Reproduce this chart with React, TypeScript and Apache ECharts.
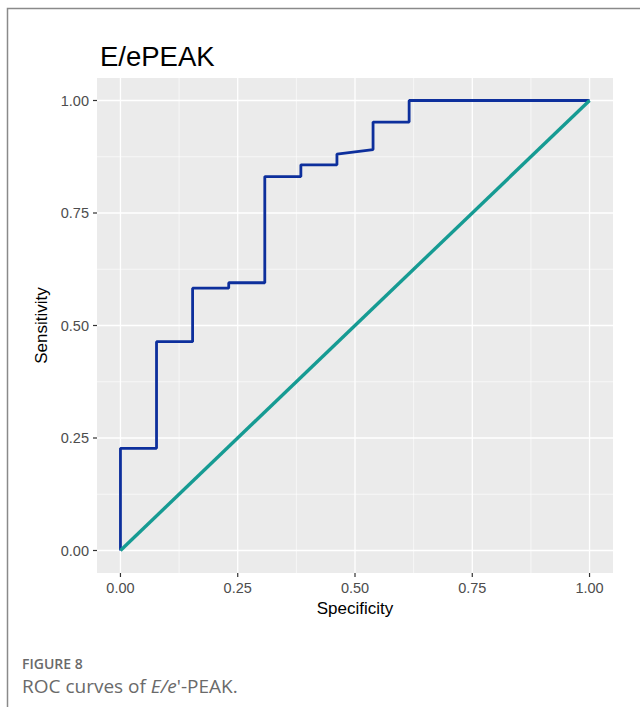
import React, { useEffect, useRef } from "react";
import * as echarts from "echarts";

const rocSpecificity = [0, 0, 0.0769, 0.0769, 0.1538, 0.1538, 0.2308, 0.2308, 0.3077, 0.3077, 0.3846, 0.3846, 0.4615, 0.4615, 0.5385, 0.5385, 0.6154, 0.6154, 1];
const rocSensitivity = [0, 0.227, 0.227, 0.464, 0.464, 0.583, 0.583, 0.595, 0.595, 0.831, 0.831, 0.857, 0.857, 0.881, 0.891, 0.952, 0.952, 1, 1];
const diagX = [0, 1];
const diagY = [0, 1];
const majorTicks = [0, 0.25, 0.5, 0.75, 1];
const minorTicks = [0.125, 0.375, 0.625, 0.875];
const axisMin = -0.05;
const axisMax = 1.05;

export default function App() {
  const ref = useRef<HTMLDivElement>(null);
  useEffect(() => {
    document.body.style.margin = "0";
    const chart = echarts.init(ref.current!, null, { renderer: "svg" });
    // [value, orientation (0 vertical / 1 horizontal), kind (1 major, 0 minor, 2 tick)]
    const gridData: number[][] = [];
    majorTicks.forEach((v) => { gridData.push([v, 0, 1]); gridData.push([v, 1, 1]); });
    minorTicks.forEach((v) => { gridData.push([v, 0, 0]); gridData.push([v, 1, 0]); });
    majorTicks.forEach((v) => { gridData.push([v, 0, 2]); gridData.push([v, 1, 2]); });
    const font = "Liberation Sans, Arial, sans-serif";
    chart.setOption({
      animation: false,
      backgroundColor: "#ffffff",
      title: {
        text: "E/ePEAK",
        left: 95,
        top: 37,
        textStyle: { fontFamily: font, fontSize: 27.5, fontWeight: "normal", color: "#000" },
      },
      grid: {
        left: 97,
        top: 78,
        width: 516,
        height: 495,
        show: true,
        backgroundColor: "#ebebeb",
        borderWidth: 0,
      },
      xAxis: {
        type: "value",
        min: axisMin,
        max: axisMax,
        name: "Specificity",
        nameLocation: "middle",
        nameGap: 26,
        nameTextStyle: { fontFamily: font, fontSize: 17, color: "#000" },
        axisLine: { show: false },
        axisTick: { show: false },
        axisLabel: {
          customValues: majorTicks,
          margin: 7,
          fontFamily: font,
          fontSize: 14.5,
          color: "#4d4d4d",
          formatter: (v: number) => v.toFixed(2),
        },
        splitLine: { show: false },
      },
      yAxis: {
        type: "value",
        min: axisMin,
        max: axisMax,
        name: "Sensitivity",
        nameLocation: "middle",
        nameGap: 47,
        nameRotate: 90,
        nameTextStyle: { fontFamily: font, fontSize: 17, color: "#000" },
        axisLine: { show: false },
        axisTick: { show: false },
        axisLabel: {
          customValues: majorTicks,
          margin: 8,
          fontFamily: font,
          fontSize: 14.5,
          color: "#4d4d4d",
          formatter: (v: number) => v.toFixed(2),
        },
        splitLine: { show: false },
      },
      graphic: [
        {
          type: "rect",
          shape: { x: 7.5, y: 8.5, width: 700, height: 750 },
          style: { fill: "none", stroke: "#8a8a8a", lineWidth: 1.5 },
          silent: true,
          z: -10,
        },
        {
          type: "text",
          left: 22,
          top: 656,
          style: { text: "FIGURE 8", fontFamily: "Open Sans, sans-serif", fontSize: 14, fontWeight: 600, fill: "#6a6a6a", lineHeight: 14 },
        },
        {
          type: "text",
          left: 22,
          top: 676,
          style: {
            text: "ROC curves of {i|E/e}'-PEAK.",
            fontFamily: "Open Sans, sans-serif",
            fontSize: 19,
            fill: "#6a6a6a",
            lineHeight: 17,
            rich: {
              i: { fontFamily: "Open Sans, sans-serif", fontSize: 19, fontStyle: "italic", fill: "#6a6a6a", lineHeight: 17 },
            },
          },
        },
      ],
      series: [
        {
          type: "custom",
          silent: true,
          z: 1,
          clip: false,
          data: gridData,
          renderItem: (params: any, api: any) => {
            const v = api.value(0);
            const horiz = api.value(1) === 1;
            const kind = api.value(2);
            if (kind === 2) {
              const p = horiz ? api.coord([axisMin, v]) : api.coord([v, axisMin]);
              return {
                type: "line",
                shape: horiz
                  ? { x1: p[0] - 4, y1: p[1], x2: p[0], y2: p[1] }
                  : { x1: p[0], y1: p[1], x2: p[0], y2: p[1] + 4 },
                style: { stroke: "#333333", lineWidth: 1.2 },
              };
            }
            const p1 = horiz ? api.coord([axisMin, v]) : api.coord([v, axisMin]);
            const p2 = horiz ? api.coord([axisMax, v]) : api.coord([v, axisMax]);
            return {
              type: "line",
              shape: { x1: p1[0], y1: p1[1], x2: p2[0], y2: p2[1] },
              style: { stroke: "#ffffff", lineWidth: kind === 1 ? 1.3 : 0.6 },
            };
          },
        },
        {
          type: "line",
          z: 3,
          showSymbol: false,
          data: rocSpecificity.map((x, i) => [x, rocSensitivity[i]]),
          lineStyle: { color: "#0d2f9c", width: 2.8 },
        },
        {
          type: "line",
          z: 4,
          showSymbol: false,
          data: diagX.map((x, i) => [x, diagY[i]]),
          lineStyle: { color: "#169b93", width: 3.4 },
        },
      ],
    });
    return () => chart.dispose();
  }, []);
  return <div ref={ref} style={{ position: "absolute", left: 0, top: 0, width: 640, height: 707 }} />;
}
